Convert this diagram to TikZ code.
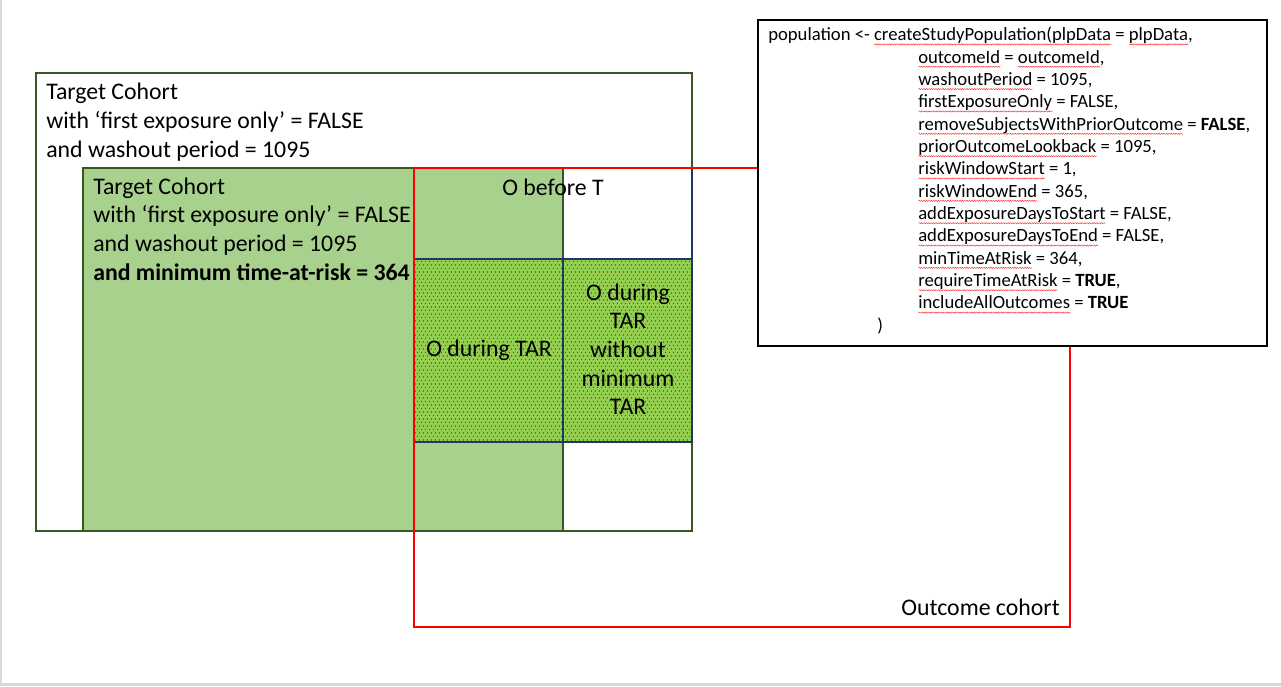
\documentclass[tikz,border=0pt]{standalone}
\usepackage{fontspec}
\setmainfont{Carlito}
\usetikzlibrary{patterns,decorations.pathmorphing}
\definecolor{dkgreen}{HTML}{385723}
\definecolor{ltgreen}{HTML}{A9D18E}
\definecolor{brgreen}{HTML}{92D050}
\definecolor{navy}{HTML}{203864}
\definecolor{pagegray}{HTML}{D9D9D9}
\pgfdeclarepatternformonly{reddots}{\pgfpointorigin}{\pgfqpoint{3.2pt}{5.2pt}}{\pgfqpoint{3.2pt}{5.2pt}}{%
  \pgfpathrectangle{\pgfqpoint{0pt}{0pt}}{\pgfqpoint{0.85pt}{0.85pt}}%
  \pgfpathrectangle{\pgfqpoint{1.6pt}{2.6pt}}{\pgfqpoint{0.85pt}{0.85pt}}%
  \pgfusepath{fill}}
\newsavebox\sqbox
\newcommand\sq[1]{\sbox\sqbox{#1}\rlap{\raisebox{-3.4pt}{\tikz[x=1pt,y=1pt]\draw[red!80, line width=0.35pt, decorate, decoration={snake, amplitude=0.45pt, segment length=1.8pt}] (0pt,0pt) -- (\wd\sqbox,0pt);}}\usebox\sqbox}
\begin{document}
\begin{tikzpicture}[x=0.75pt,y=-0.75pt,
  big/.style={font=\fontsize{17.85pt}{21.75pt}\selectfont, inner sep=0pt},
  codeline/.style={font=\fontsize{14pt}{17pt}\selectfont, anchor=base west, inner sep=0pt},
  boxline/.style={line width=1pt}]
\useasboundingbox (0,0) rectangle (1281,686);
\fill[pagegray] (0,0) rectangle (2,686);
\fill[pagegray] (0,683) rectangle (1281,686);
% outer target cohort
\draw[boxline, dkgreen, fill=white] (36,73) rectangle (692,531);
% inner target cohort
\draw[boxline, dkgreen, fill=ltgreen] (83,168) rectangle (563,531);
% outcome during TAR (dotted)
\fill[brgreen] (414,259) rectangle (692,442);
\fill[pattern=reddots, pattern color=red] (414,259) rectangle (692,442);
\draw[boxline, navy] (414,259) rectangle (692,442);
\draw[boxline, navy] (563,259) -- (563,442);
\draw[boxline, navy] (692,168) -- (692,259);
% outcome cohort
\draw[boxline, red] (414,168) rectangle (1070,627);
% code box
\draw[boxline, black, fill=white] (758,20) rectangle (1267,346);
% texts outer
\node[big, anchor=base west] (t1) at (46,99.3) {Target Cohort};
\node[big, anchor=base west] (t2) at (46,128.3) {with ‘first exposure only’ = FALSE};
\node[big, anchor=base west] (t3) at (46,157.3) {and washout period = 1095};
% texts inner
\node[big, anchor=base west] (i1) at (93,194) {Target Cohort};
\node[big, anchor=base west] (i2) at (93,222.7) {with ‘first exposure only’ = FALSE};
\node[big, anchor=base west] (i3) at (93,251.4) {and washout period = 1095};
\node[big, anchor=base west] (i4) at (93,280.1) {\bfseries and minimum time-at-risk = 364};
% outcome texts
\node[big, anchor=base] (ob) at (553,195) {O before T};
\node[big, anchor=base] (od) at (489,356.7) {O during TAR};
\node[big, anchor=base] (r1) at (628,300) {O during};
\node[big, anchor=base] (r2) at (628,328.7) {TAR};
\node[big, anchor=base] (r3) at (628,357.4) {without};
\node[big, anchor=base] (r4) at (628,386.1) {minimum};
\node[big, anchor=base] (r5) at (628,414.8) {TAR};
\node[big, anchor=base east] (oc) at (1060,615) {Outcome cohort};
% code
\node[codeline] (c0) at (768,40.7) {population <- \sq{createStudyPopulation(plpData} = \sq{plpData},};
\node[codeline] (c1) at (918,63.05) {\sq{outcomeId} = \sq{outcomeId},};
\node[codeline] (c2) at (918,85.4) {\sq{washoutPeriod} = 1095,};
\node[codeline] (c3) at (918,107.75) {\sq{firstExposureOnly} = FALSE,};
\node[codeline] (c4) at (918,130.1) {\sq{removeSubjectsWithPriorOutcome} = \textbf{FALSE},};
\node[codeline] (c5) at (918,152.45) {\sq{priorOutcomeLookback} = 1095,};
\node[codeline] (c6) at (918,174.8) {\sq{riskWindowStart} = 1,};
\node[codeline] (c7) at (918,197.15) {\sq{riskWindowEnd} = 365,};
\node[codeline] (c8) at (918,219.5) {\sq{addExposureDaysToStart} = FALSE,};
\node[codeline] (c9) at (918,241.85) {\sq{addExposureDaysToEnd} = FALSE,};
\node[codeline] (c10) at (918,264.2) {\sq{minTimeAtRisk} = 364,};
\node[codeline] (c11) at (918,286.55) {\sq{requireTimeAtRisk} = \textbf{TRUE},};
\node[codeline] (c12) at (918,308.9) {\sq{includeAllOutcomes} = \textbf{TRUE}};
\node[codeline] (c13) at (877,331) {)};
\end{tikzpicture}
\end{document}
